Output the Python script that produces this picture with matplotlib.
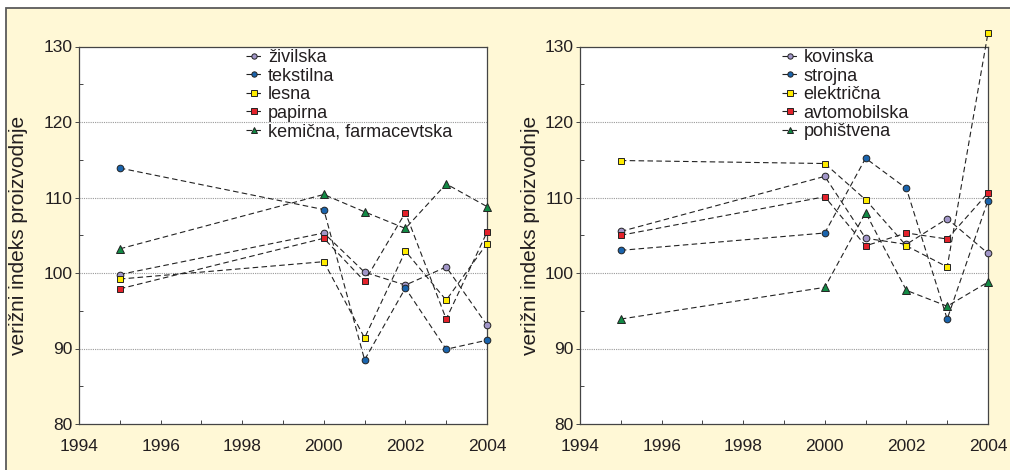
import matplotlib
matplotlib.use("Agg")
import matplotlib.pyplot as plt
from matplotlib.patches import Rectangle
from matplotlib.ticker import MultipleLocator

plt.rcParams['font.family'] = ['Liberation Sans', 'DejaVu Sans']

years = [1995, 2000, 2001, 2002, 2003, 2004]

# Left panel: food, textile, wood, paper, chemical industries
left_names = ["živilska", "tekstilna", "lesna", "papirna", "kemična, farmacevtska"]
zivilska = [99.8, 105.3, 100.1, 98.4, 100.8, 93.1]
tekstilna = [113.9, 108.4, 88.5, 98.0, 89.9, 91.1]
lesna = [99.2, 101.5, 91.4, 102.9, 96.4, 103.9]
papirna = [97.9, 104.6, 98.9, 108.0, 93.9, 105.4]
kemicna = [103.2, 110.4, 108.1, 105.9, 111.8, 108.8]

# Right panel: metal, machinery, electrical, automotive, furniture industries
right_names = ["kovinska", "strojna", "električna", "avtomobilska", "pohištvena"]
kovinska = [105.5, 112.8, 104.6, 103.8, 107.2, 102.6]
strojna = [103.0, 105.3, 115.2, 111.2, 93.9, 109.6]
elektricna = [114.9, 114.5, 109.7, 103.6, 100.8, 131.8]
avtomobilska = [105.0, 110.1, 103.6, 105.3, 104.5, 110.6]
pohistvena = [93.9, 98.1, 108.0, 97.7, 95.6, 98.8]

left_series = [zivilska, tekstilna, lesna, papirna, kemicna]
right_series = [kovinska, strojna, elektricna, avtomobilska, pohistvena]

styles = [
    dict(marker="o", markerfacecolor="#a196c8", markersize=4.8),
    dict(marker="o", markerfacecolor="#1a64ad", markersize=4.8),
    dict(marker="s", markerfacecolor="#ffec00", markersize=5.0),
    dict(marker="s", markerfacecolor="#e3222b", markersize=5.0),
    dict(marker="^", markerfacecolor="#128a45", markersize=5.2),
]

ylabel = "verižni indeks proizvodnje"
text_color = "#231f20"
cream = "#fff8d6"

fig = plt.figure(figsize=(10.1, 4.7), dpi=100, facecolor="white")
fig.patches.append(Rectangle((6 / 1010, -0.05), 1.1, 1.05 - 8 / 470,
                             transform=fig.transFigure, facecolor=cream,
                             edgecolor="#5a5a5a", linewidth=1.3, zorder=-5))

ax_l = fig.add_axes([79 / 1010, 1 - 424 / 470, 408 / 1010, 377.5 / 470])
ax_r = fig.add_axes([580 / 1010, 1 - 424 / 470, 408 / 1010, 377.5 / 470])


def draw_panel(ax, series, names, legend_x, label_x):
    ax.set_facecolor("white")
    for v in (90, 100, 110, 120):
        ax.axhline(v, color="#9a9a9a", linestyle=(0, (1, 1)), linewidth=0.8, zorder=1)
    for vals, name, st in zip(series, names, styles):
        ax.plot(years, vals, color="#222222", linestyle=(0, (5, 3)), linewidth=0.8,
                markeredgecolor="#222222", markeredgewidth=0.7, label=name,
                clip_on=False, zorder=3, **st)
    ax.set_xlim(1994, 2004)
    ax.set_ylim(80, 130)
    ax.xaxis.set_major_locator(MultipleLocator(2))
    ax.xaxis.set_minor_locator(MultipleLocator(1))
    ax.yaxis.set_major_locator(MultipleLocator(10))
    ax.yaxis.set_minor_locator(MultipleLocator(5))
    ax.tick_params(axis="x", which="both", direction="in", length=3, width=0.7,
                   color="#444444", labelsize=12.5, labelcolor=text_color, pad=11)
    ax.tick_params(axis="y", which="major", direction="out", length=3, width=0.7,
                   color="#444444", labelsize=12.5, labelcolor=text_color, pad=1.5)
    ax.tick_params(axis="y", which="minor", direction="in", length=3, width=0.7,
                   color="#444444")
    for sp in ax.spines.values():
        sp.set_color("#444444")
        sp.set_linewidth(0.9)
    ax.set_ylabel(ylabel, fontsize=15, color=text_color)
    ax.yaxis.set_label_coords(label_x, 0.5)
    leg = ax.legend(loc="upper left", bbox_to_anchor=(legend_x, 1.0), frameon=False,
                    fontsize=13, handlelength=0.9, handletextpad=0.3,
                    labelspacing=0.085, borderpad=0.15, borderaxespad=0.0,
                    markerscale=0.8)
    for t in leg.get_texts():
        t.set_color(text_color)


draw_panel(ax_l, left_series, left_names, 0.403, -0.125)
draw_panel(ax_r, right_series, right_names, 0.488, -0.098)

fig.savefig("out.png", dpi=100, facecolor=fig.get_facecolor())
